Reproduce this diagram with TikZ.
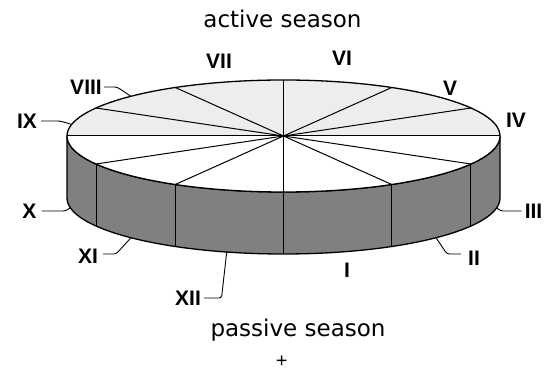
\documentclass[tikz,border=0pt]{standalone}
\usepackage{fontspec}
\setmainfont{DejaVu Sans}
\newfontfamily\numfont{Liberation Sans}
\definecolor{sidegray}{HTML}{808080}
\definecolor{backgray}{HTML}{EDEDED}
\begin{document}
\begin{tikzpicture}[x=1pt,y=1pt,
  rim/.style={line width=1.3pt},
  spoke/.style={line width=1pt},
  leader/.style={line width=0.9pt, rounded corners=2.5pt},
  num/.style={font=\numfont\bfseries\fontsize{21}{21}\selectfont, inner sep=1pt},
  season/.style={font=\fontsize{23}{23}\selectfont, inner sep=0pt}]
\useasboundingbox (0,0) rectangle (544,372);
\fill[white] (0,0) rectangle (544,372);
\coordinate (C) at (283.5,236);
% side of the disc
\draw[rim, fill=sidegray] (67,236) -- (67,174)
  arc[start angle=180,end angle=360,x radius=216.5pt,y radius=56pt]
  -- (500,236)
  arc[start angle=0,end angle=-180,x radius=216.5pt,y radius=56pt] -- cycle;
% top face
\fill[backgray] (500,236) arc[start angle=0,end angle=180,x radius=216.5pt,y radius=56pt] -- cycle;
\fill[white] (67,236) arc[start angle=180,end angle=360,x radius=216.5pt,y radius=56pt] -- cycle;
\foreach \a in {0,30,...,330}
  \draw[spoke] (C) -- ++({216.5*cos(\a)},{56*sin(\a)});
\foreach \a in {210,240,...,330}
  \draw[spoke] ({283.5+216.5*cos(\a)},{236+56*sin(\a)}) -- ++(0,-62);
\draw[rim] (C) ellipse[x radius=216.5pt, y radius=56pt];
% leader ends on the rims
\coordinate (e8) at (131.0,275.7);
\coordinate (e9) at (71.7,247.6);
\coordinate (e10) at (70.3,164.3);
\coordinate (e11) at (131.0,134.3);
\coordinate (e12) at (226.7,120.0);
\coordinate (e2) at (436.0,134.3);
\coordinate (e3) at (496.7,164.3);
% month labels
\node[num] (n7) at (219,311) {VII};
\node[num] (n6) at (342,314) {VI};
\node[num] (n5) at (450,284) {V};
\node[num] (n4) at (516,252) {IV};
\node[num] (n8) at (86,285) {VIII};
\node[num] (n9) at (27,251) {IX};
\node[num] (n10) at (29.4,161) {X};
\node[num] (n11) at (88,116) {XI};
\node[num] (n12) at (188,74) {XII};
\node[num] (n1) at (347,102) {I};
\node[num] (n2) at (474,114) {II};
\node[num] (n3) at (533.5,161) {III};
% leaders
\draw[leader] ([xshift=1pt]n8.east) -- ++(13,0) -- (e8);
\draw[leader] ([xshift=3pt]n9.east) -- ++(19,0) -- (e9);
\draw[leader] ([xshift=4pt]n10.east) -- ++(24,0) -- (e10);
\draw[leader] ([xshift=4pt,yshift=2pt]n11.east) -- ++(13,0) -- (e11);
\draw[leader] ([xshift=2pt]n12.east) -- ++(17.5,0) -- (e12);
\draw[leader] ([xshift=-6pt,yshift=4pt]n2.west) -- ++(-14,0) -- (e2);
\draw[leader] ([xshift=-2pt]n3.west) -- ++(-21,0) -- (e3);
% season texts
\node[season, anchor=base] (act) at (282.5,344) {active season};
\node[season, anchor=base] (pas) at (298,35.3) {passive season};
\node[font=\numfont\fontsize{20}{20}\selectfont, inner sep=0pt] (plus) at (281.7,10) {+};
\end{tikzpicture}
\end{document}
